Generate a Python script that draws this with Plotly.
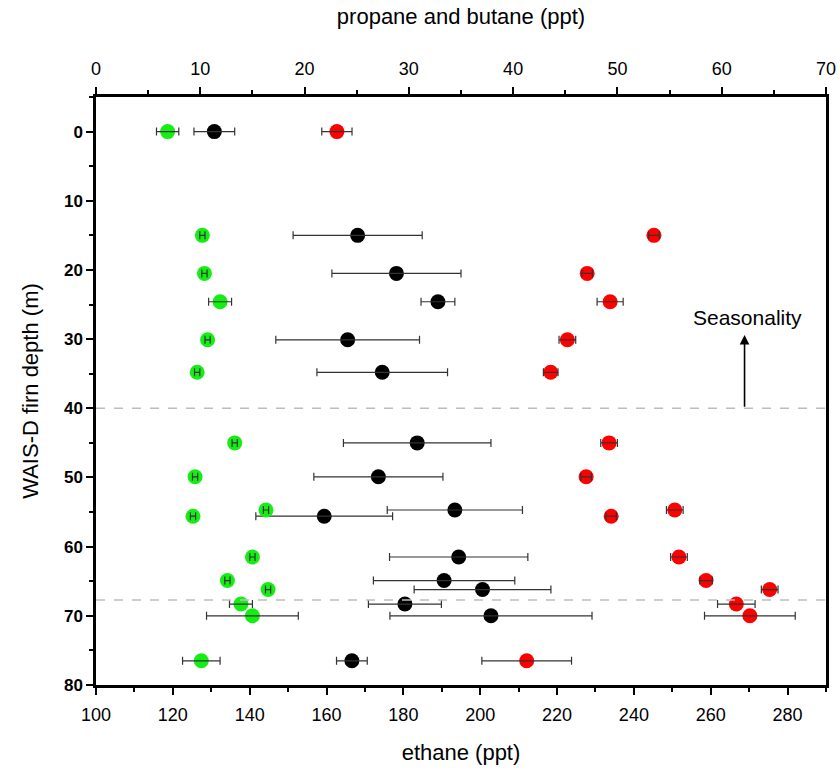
import plotly.graph_objects as go

# Firn air samples: depth (m) and mixing ratios (ppt) with uncertainties
depth = [0, 15.0, 20.5, 24.6, 30.1, 34.8, 45.0, 49.9, 54.7, 55.6, 61.5, 64.9, 66.2, 68.3, 70.0, 76.5]

ethane = [130.8, 168.1, 178.2, 189.0, 165.5, 174.5, 183.6, 173.5, 193.4, 159.4,
          194.4, 190.6, 200.6, 180.4, 202.8, 166.6]
ethane_err = [5.3, 16.8, 16.8, 4.4, 18.7, 17.0, 19.2, 16.8, 17.6, 17.8,
              18.0, 18.4, 17.8, 9.5, 26.3, 4.0]

butane = [6.87, 10.2, 10.4, 11.9, 10.7, 9.7, 13.3, 9.5, 16.3, 9.3,
          15.0, 12.6, 16.5, 13.9, 15.0, 10.1]
butane_err = [1.07, 0.25, 0.25, 1.1, 0.25, 0.25, 0.25, 0.25, 0.25, 0.25,
              0.25, 0.25, 0.25, 1.1, 4.4, 1.8]

propane = [23.1, 53.5, 47.1, 49.3, 45.2, 43.6, 49.2, 47.0, 55.5, 49.4,
           55.9, 58.5, 64.6, 61.4, 62.7, 41.3]
propane_err = [1.45, 0.5, 0.5, 1.25, 0.8, 0.7, 0.8, 0.5, 0.8, 0.5,
               0.8, 0.6, 0.8, 1.8, 4.35, 4.3]

# horizontal reference lines (m)
ref_depths = [40.0, 67.7]

GREEN = "#14ee14"
RED = "#ff0000"
BLACK = "#000000"
ERR = "#333333"

fig = go.Figure()

series = [
    (butane, butane_err, GREEN, "x2"),
    (ethane, ethane_err, BLACK, "x"),
    (propane, propane_err, RED, "x2"),
]

# markers first
for vals, errs, col, xa in series:
    fig.add_trace(go.Scatter(
        x=vals, y=depth, xaxis=xa, yaxis="y", mode="markers",
        marker=dict(size=15, color=col, line=dict(width=0)),
        showlegend=False, hoverinfo="skip",
    ))

# error bars drawn over the markers
for vals, errs, col, xa in series:
    fig.add_trace(go.Scatter(
        x=vals, y=depth, xaxis=xa, yaxis="y", mode="markers",
        marker=dict(size=1, color="rgba(0,0,0,0)"),
        error_x=dict(type="data", array=errs, visible=True,
                     color=ERR, thickness=1.2, width=4),
        showlegend=False, hoverinfo="skip",
    ))

for d in ref_depths:
    fig.add_shape(type="line", xref="paper", yref="y", x0=0, x1=1, y0=d, y1=d,
                  line=dict(color="#bdbdbd", width=1.5, dash="dash"))

fig.add_annotation(x=268.8, y=29.4, ax=268.8, ay=40.0, xref="x", yref="y",
                   axref="x", ayref="y", text="", showarrow=True,
                   arrowhead=2, arrowsize=1.2, arrowwidth=1.6, arrowcolor="black")
fig.add_annotation(x=269.6, y=26.9, xref="x", yref="y", text="Seasonality",
                   showarrow=False, font=dict(size=21, color="black",
                                              family="Liberation Sans, Arial"))

tick_font = dict(family="Liberation Sans, Arial", size=18, color="black")
title_font = dict(family="Liberation Sans, Arial", size=22, color="black")

fig.update_layout(
    width=840, height=774,
    margin=dict(l=96, r=14, t=97, b=89, autoexpand=False),
    paper_bgcolor="white", plot_bgcolor="white",
    xaxis=dict(
        range=[100, 290], tick0=100, dtick=20, side="bottom", automargin=False,
        showline=True, linecolor="black", linewidth=2.5,
        ticks="outside", ticklen=7, tickwidth=2, tickcolor="black",
        minor=dict(dtick=10, ticks="outside", ticklen=4, tickwidth=2, tickcolor="black"),
        showgrid=False, zeroline=False, ticklabelstandoff=5,
        tickfont=tick_font,
        title=dict(text="ethane (ppt)", font=title_font, standoff=21),
    ),
    xaxis2=dict(
        range=[0, 70], tick0=0, dtick=10, side="top", overlaying="x", automargin=False,
        showline=True, linecolor="black", linewidth=2.5,
        ticks="outside", ticklen=7, tickwidth=2, tickcolor="black",
        minor=dict(dtick=5, ticks="outside", ticklen=4, tickwidth=2, tickcolor="black"),
        showgrid=False, zeroline=False, ticklabelstandoff=5,
        tickfont=tick_font,
        title=dict(text="propane and butane (ppt)", font=title_font, standoff=29),
    ),
    yaxis=dict(
        range=[80, -5], tick0=0, dtick=10, automargin=False,
        showline=True, linecolor="black", linewidth=2.5, mirror=True,
        ticks="outside", ticklen=7, tickwidth=2, tickcolor="black",
        minor=dict(dtick=5, ticks="outside", ticklen=4, tickwidth=2, tickcolor="black"),
        showgrid=False, zeroline=False,
        tickfont=dict(family="Liberation Sans, Arial", size=17, color="black", weight="bold"),
        title=dict(text="WAIS-D firn depth (m)", font=title_font, standoff=20),
    ),
)

fig.write_html("out.html")
